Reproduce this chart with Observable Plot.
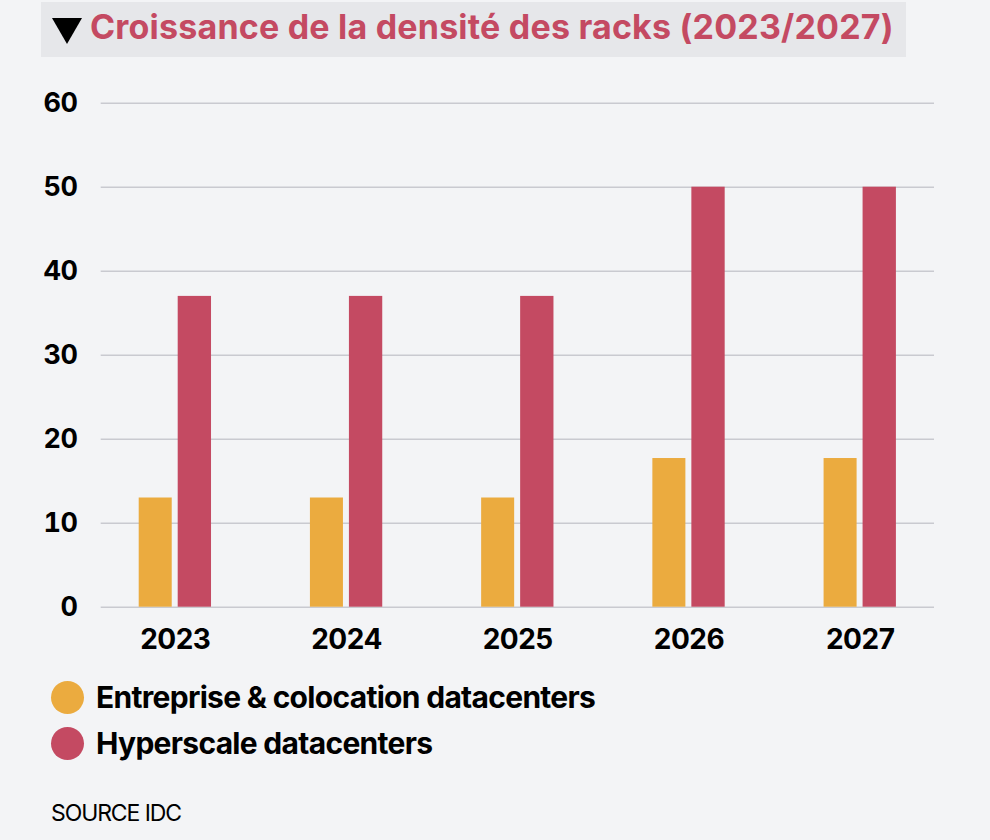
<!DOCTYPE html>
<html>
<head>
<meta charset="utf-8">
<script src="https://cdn.jsdelivr.net/npm/d3@7"></script>
<script src="https://cdn.jsdelivr.net/npm/@observablehq/plot@0.6"></script>
<style>
  html, body { margin: 0; padding: 0; }
  body { width: 990px; height: 840px; background: #f3f4f6; position: relative; overflow: hidden; font-family: Inter, "Noto Sans", sans-serif; }
  #titlebox { position: absolute; left: 41px; top: 2px; width: 865px; height: 55px; background: #e6e7ea; }
  #tri { position: absolute; left: 52px; top: 18px; width: 0; height: 0; border-left: 15.5px solid transparent; border-right: 15.5px solid transparent; border-top: 26px solid #000; }
  #title { position: absolute; left: 90px; top: 7px; line-height: 40px; font-size: 34px; font-weight: 700; color: #c44a62; letter-spacing: 0.2px; white-space: nowrap; margin: 0; }
  #chart { position: absolute; left: 0; top: 70px; }
  #chart svg text { letter-spacing: -0.5px; }
  .leg { position: absolute; left: 51px; height: 33px; display: flex; align-items: center; }
  .dot { width: 33px; height: 33px; border-radius: 50%; }
  .lab { margin-left: 12px; font-size: 30px; font-weight: 700; line-height: 33px; color: #000; letter-spacing: -0.7px; white-space: nowrap; }
  #source { position: absolute; left: 51px; top: 802px; font-size: 23px; line-height: 23px; color: #000; letter-spacing: -1.1px; }
</style>
</head>
<body>
<div id="titlebox"></div>
<div id="tri"></div>
<h1 id="title">Croissance de la densité des racks (2023/2027)</h1>
<div id="chart"></div>
<div class="leg" style="top:681px"><div class="dot" style="background:#ebab3f"></div><div class="lab">Entreprise &amp; colocation datacenters</div></div>
<div class="leg" style="top:727px"><div class="dot" style="background:#c44a62"></div><div class="lab">Hyperscale datacenters</div></div>
<div id="source">SOURCE IDC</div>
<script>
const years = ["2023", "2024", "2025", "2026", "2027"];
const enterprise = [13, 13, 13, 17.7, 17.7];
const hyperscale = [37, 37, 37, 50, 50];
const yTicks = [0, 10, 20, 30, 40, 50, 60];

const entRows = years.map((y, i) => ({year: y, value: enterprise[i]}));
const hypRows = years.map((y, i) => ({year: y, value: hyperscale[i]}));

const chart = Plot.plot({
  width: 990,
  height: 590,
  marginTop: 32.7,
  marginBottom: 53.3,
  marginLeft: 100.7,
  marginRight: 56,
  style: {background: "transparent", fontFamily: "Inter, sans-serif", overflow: "visible", color: "#000"},
  x: {domain: years, range: [89.2, 945.3], padding: 0, round: false, label: null},
  y: {domain: [0, 60], label: null},
  marks: [
    Plot.ruleY(yTicks, {stroke: "#c9cad0", strokeWidth: 1.6}),
    Plot.barY(entRows, {x: "year", y: "value", fill: "#ebab3f", insetLeft: 49.5, insetRight: 88.7}),
    Plot.barY(hypRows, {x: "year", y: "value", fill: "#c44a62", insetLeft: 88.5, insetRight: 49.4}),
    Plot.axisX({tickSize: 0, tickPadding: 22, fontSize: 28, fontWeight: 700, fill: "#000", label: null}),
    Plot.axisY({ticks: yTicks, tickSize: 0, tickPadding: 23.7, fontSize: 27, fontWeight: 700, fill: "#000", label: null})
  ]
});
document.getElementById("chart").appendChild(chart);
</script>
</body>
</html>
